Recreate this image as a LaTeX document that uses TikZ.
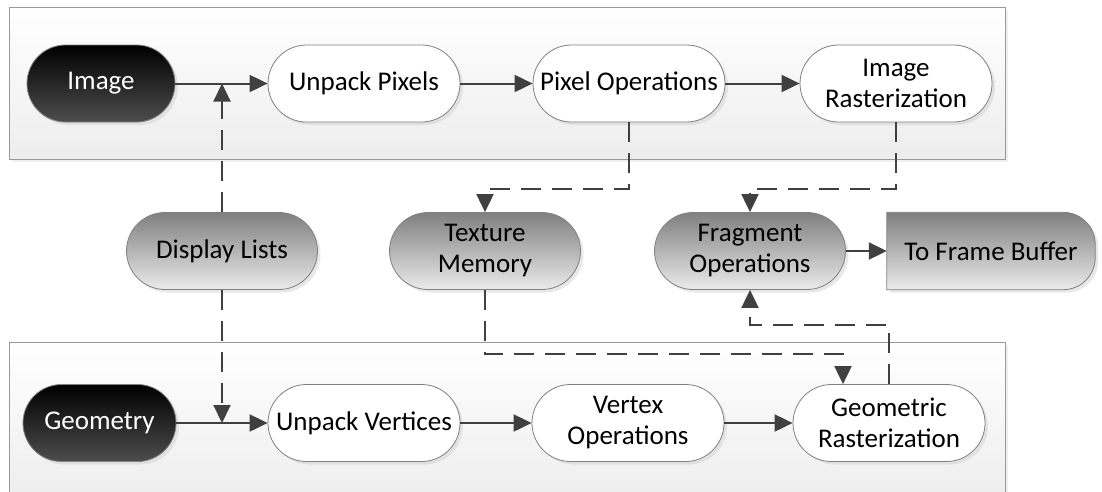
\documentclass[tikz,border=0pt]{standalone}
\usepackage{fontspec}
\setmainfont{Carlito}
\usetikzlibrary{arrows.meta,positioning,shadows,backgrounds,calc}

\begin{document}
\begin{tikzpicture}[
    x=1pt, y=-1pt,
    font=\fontsize{27}{31}\selectfont,
    line/.style={draw=black!75, line width=2pt},
    arr/.style={line, -{Triangle[length=18pt,width=17pt]}},
    darr/.style={arr, dash pattern=on 20pt off 11pt},
    shade/.style={drop shadow={shadow xshift=3pt, shadow yshift=-3pt, fill=black!18}},
    pill/.style={draw=black!50, line width=0.8pt, rounded corners=38.5pt, align=center,
      minimum width=192pt, minimum height=77pt, inner sep=2pt, shade},
    plain/.style={pill, fill=white},
    source/.style={pill, top color=black, bottom color=black!70, text=white},
    store/.style={pill, top color=black!50, bottom color=black!8, minimum width=191pt},
    grp/.style={draw=black!40, line width=0.8pt, top color=white, bottom color=black!7,
      drop shadow={shadow xshift=3pt, shadow yshift=-3pt, fill=black!12}},
  ]
  \clip (0,0) rectangle (1102,491);

  % pixel and geometry bands
  \draw[grp] (9,7) rectangle (1005,159);
  \draw[grp] (9,342) rectangle (1005,500);

  % image path
  \node[source, minimum width=148pt] (img) at (101,83.5) {Image};
  \node[plain] (upx) at (364,83.5) {Unpack Pixels};
  \node[plain] (pxop) at (629,83.5) {Pixel Operations};
  \node[plain] (irast) at (896,83.5) {Image\\Rasterization};

  % shared stages
  \node[store] (dl) at (222,251) {Display Lists};
  \node[store] (tex) at (485,251) {Texture\\Memory};
  \node[store] (frag) at (750,251) {Fragment\\Operations};
  \node[minimum width=208pt, minimum height=77pt, inner sep=2pt] (ffb) at (991,251) {To Frame Buffer};
  \begin{scope}[on background layer]
    \draw[draw=black!50, line width=0.8pt, top color=black!50, bottom color=black!8, shade]
      (ffb.south west) -- (ffb.north west) [rounded corners=32pt] -- (ffb.north east)
      -- (ffb.south east) [sharp corners] -- cycle;
  \end{scope}

  % geometry path
  \node[source, minimum width=153pt] (geo) at (99.5,423) {Geometry};
  \node[plain] (uvert) at (364,423) {Unpack Vertices};
  \node[plain] (vop) at (628,423) {Vertex\\Operations};
  \node[plain] (grast) at (889,423) {Geometric\\Rasterization};

  \draw[arr] (img.east) -- (upx.west);
  \draw[arr] (upx.east) -- (pxop.west);
  \draw[arr] (pxop.east) -- (irast.west);
  \draw[arr] (frag.east) -- (ffb.west);
  \draw[arr] (geo.east) -- (uvert.west);
  \draw[arr] (uvert.east) -- (vop.west);
  \draw[arr] (vop.east) -- (grast.west);

  % dashed feeds between the bands
  \draw[darr] (dl.north) -- (dl.north |- img.east);
  \draw[darr] (dl.south) -- (dl.south |- geo.east);
  \draw[darr] (pxop.south) -- ++(0,67) -| (tex.north);
  \draw[darr] (irast.south) -- ++(0,67) -| (frag.north);
  \draw[darr] (tex.south) -- ++(0,64) -| ([xshift=-46pt]grast.north);
  \draw[darr] (grast.north) -- ++(0,-59) -| (frag.south);
\end{tikzpicture}
\end{document}
